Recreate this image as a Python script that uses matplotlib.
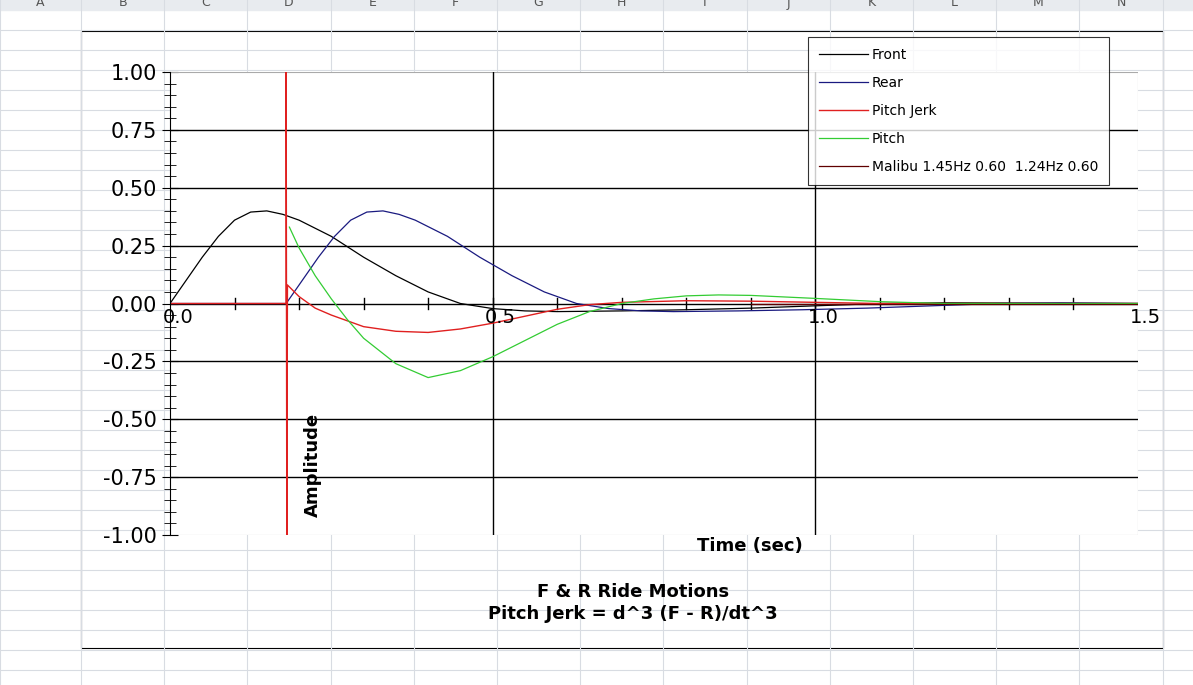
import matplotlib
matplotlib.use("Agg")
import matplotlib.pyplot as plt
from matplotlib.lines import Line2D
from matplotlib.patches import Rectangle
import numpy as np

t_front = [0, 0.025, 0.05, 0.075, 0.1, 0.125, 0.15, 0.175, 0.2, 0.25, 0.3, 0.35, 0.4, 0.45, 0.5, 0.55, 0.6, 0.7, 0.8, 0.9, 1.0, 1.1, 1.2, 1.5]
v_front = [0, 0.10, 0.20, 0.29, 0.36, 0.395, 0.40, 0.385, 0.36, 0.29, 0.20, 0.12, 0.05, 0.0, -0.022, -0.032, -0.035, -0.032, -0.027, -0.02, -0.01, 0.0, 0.003, 0.0]
rear_delay = 0.18
t_rear = [0, 0.18] + [t + rear_delay for t in t_front[1:] if t + rear_delay <= 1.5] + [1.5]
v_rear = [0, 0] + [v for t, v in zip(t_front[1:], v_front[1:]) if t + rear_delay <= 1.5] + [0.0]
t_jerk = [0, 0.18, 0.18, 0.181, 0.182, 0.2, 0.225, 0.25, 0.3, 0.35, 0.4, 0.45, 0.5, 0.55, 0.6, 0.65, 0.7, 0.8, 0.9, 1.0, 1.1, 1.5]
v_jerk = [0, 0, 1.0, -1.0, 0.08, 0.03, -0.02, -0.05, -0.10, -0.12, -0.125, -0.11, -0.085, -0.055, -0.025, -0.005, 0.005, 0.012, 0.01, 0.005, 0.0, 0.0]
t_pitch = [0.185, 0.2, 0.225, 0.25, 0.275, 0.3, 0.35, 0.4, 0.45, 0.5, 0.55, 0.6, 0.65, 0.7, 0.75, 0.8, 0.85, 0.9, 1.0, 1.1, 1.2, 1.5]
v_pitch = [0.33, 0.24, 0.12, 0.02, -0.07, -0.15, -0.26, -0.32, -0.29, -0.23, -0.16, -0.09, -0.035, 0.0, 0.02, 0.033, 0.037, 0.035, 0.022, 0.008, 0.0, 0.0]
t_malibu = [0.9, 1.5]
v_malibu = [0.0, 0.0]
columns = ["A", "B", "C", "D", "E", "F", "G", "H", "I", "J", "K", "L", "M", "N"]

W, H = 1193, 685
fig = plt.figure(figsize=(W/100, H/100), dpi=100)
fig.patch.set_facecolor("white")
def fx(x): return x / W
def fy(y): return 1 - y / H
# spreadsheet grid
for y in range(30, H, 20):
    fig.add_artist(Line2D([0, 1], [fy(y), fy(y)], color="#d8dce2", lw=0.8))
colx = [0, 81] + [81 + 83.2 * i for i in range(1, 14)]
fig.add_artist(Rectangle((0, fy(10)), 1, 10 / H, color="#e8ebef", zorder=0))
for x in colx:
    fig.add_artist(Line2D([fx(x), fx(x)], [0, 1], color="#d8dce2", lw=0.8))
for i, c in enumerate(columns):
    fig.text(fx((colx[i] + colx[i+1]) / 2), fy(3), c, ha="center", va="center", fontsize=9, color="#555555")
# chart area
fig.add_artist(Rectangle((fx(81), fy(648)), (1163-81)/W, (648-31)/H, facecolor="white", edgecolor="black", lw=0.8, zorder=1))

ax = fig.add_axes([fx(170), fy(535), (1138-170)/W, (535-72)/H], zorder=2)
ax.set_xlim(0, 1.5); ax.set_ylim(-1, 1)
for s in ["top", "right", "bottom"]:
    ax.spines[s].set_visible(False)
ax.spines["left"].set_color("black")
ax.plot([0, 1.5, 1.5], [1, 1, -1], color="#aaaaaa", lw=0.8)
ax.plot([0, 1.5], [-1, -1], color="#aaaaaa", lw=0.8)
for y in [-0.75, -0.5, -0.25, 0.25, 0.5, 0.75]:
    ax.axhline(y, color="black", lw=1)
for x in [0.5, 1.0]:
    ax.axvline(x, color="black", lw=1)
ax.axhline(0, color="black", lw=1)
ax.set_yticks(np.arange(-1, 1.01, 0.25))
ax.set_yticklabels([f"{v:.2f}" for v in np.arange(-1, 1.01, 0.25)], fontsize=15)
ax.set_yticks(np.arange(-1, 1.01, 0.05), minor=True)
ax.tick_params(axis="y", which="major", direction="inout", length=12)
ax.tick_params(axis="y", which="minor", direction="inout", length=8)
ax.set_xticks([])
for x in np.arange(0.1, 1.5, 0.1):
    ax.plot([x, x], [-0.025, 0.025], color="black", lw=1)
for x, lab in [(0, "0.0"), (0.5, "0.5"), (1.0, "1.0"), (1.5, "1.5")]:
    ax.text(x + 0.012, -0.06, lab, fontsize=14, ha="center", va="center")
ax.plot(t_front, v_front, color="black", lw=0.9, label="Front")
ax.plot(t_rear, v_rear, color="#1a1a80", lw=0.9, label="Rear")
ax.plot(t_jerk, v_jerk, color="#e02020", lw=1.0, label="Pitch Jerk")
ax.plot(t_pitch, v_pitch, color="#33cc33", lw=0.9, label="Pitch")
ax.plot(t_malibu, v_malibu, color="#600000", lw=0.9, label="Malibu 1.45Hz 0.60  1.24Hz 0.60")
leg = fig.legend(loc="upper left", bbox_to_anchor=(fx(808), fy(37)), frameon=True, fancybox=False,
                 edgecolor="black", fontsize=10, handlelength=3.5, labelspacing=1.0, borderpad=0.8,
                 handletextpad=0.3, borderaxespad=0)
leg.get_frame().set_linewidth(0.8)
leg.set_zorder(5)
fig.text(fx(313), fy(465), "Amplitude", rotation=90, ha="center", va="center", fontsize=13, fontweight="bold", zorder=5)
fig.text(fx(750), fy(546), "Time (sec)", ha="center", va="center", fontsize=13, fontweight="bold", zorder=5)
fig.text(fx(633), fy(603), "F & R Ride Motions\nPitch Jerk = d^3 (F - R)/dt^3", ha="center", va="center",
         fontsize=13, fontweight="bold", linespacing=1.3, zorder=5)
fig.savefig("out.png", dpi=100)
